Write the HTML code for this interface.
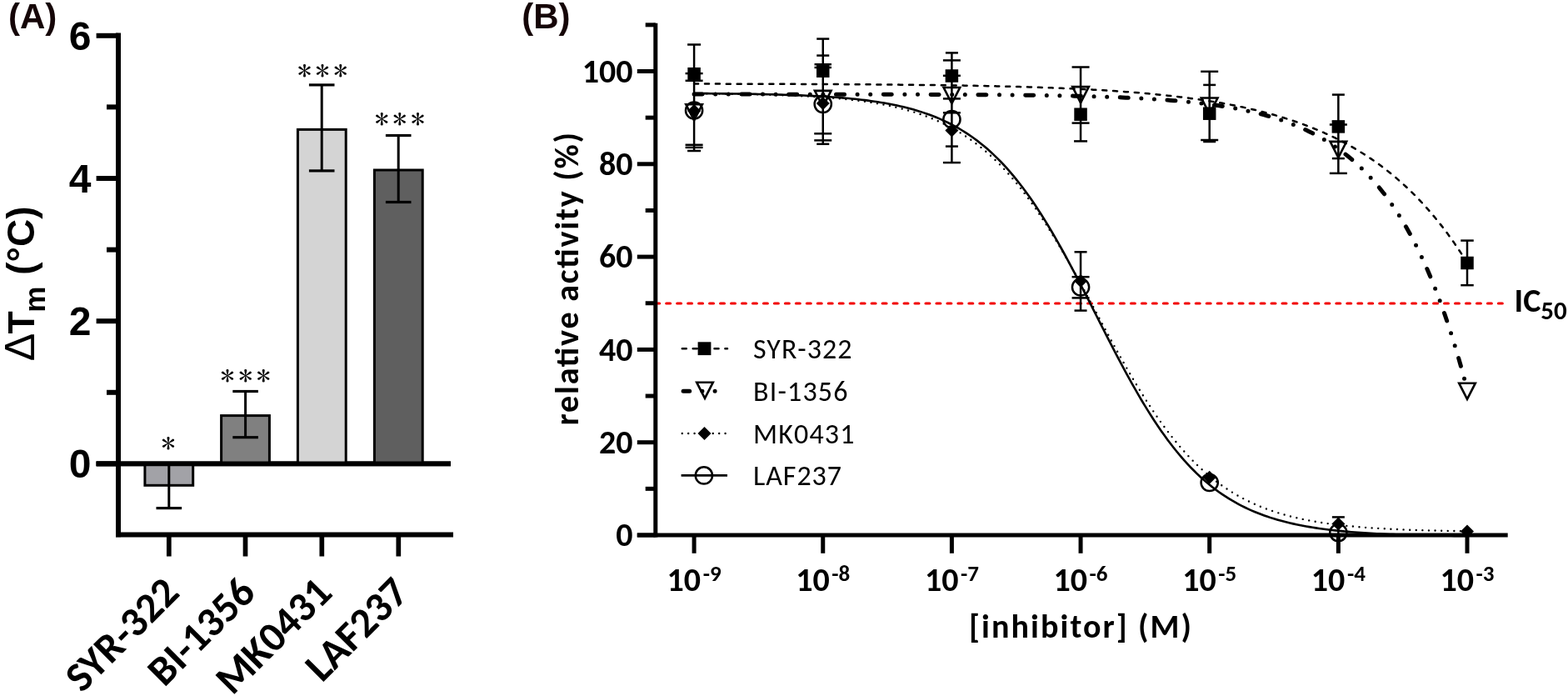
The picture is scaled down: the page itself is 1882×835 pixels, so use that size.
<!DOCTYPE html>
<html><head><meta charset="utf-8"><title>Figure</title>
<style>html,body{margin:0;padding:0;background:#fff;} svg{display:block;} .cal{font-size-adjust:cap-height 0.6484;} .calr{font-size-adjust:cap-height 0.6416;}</style></head>
<body><svg width="1882" height="835" viewBox="0 0 1882 835">
<rect width="1882" height="835" fill="#fff"/>
<text x="10.00" y="34.00" font-size="42" font-family="Liberation Sans, Arial, sans-serif" font-weight="bold" text-anchor="start" fill="#150507">(A)</text>
<line x1="142.00" y1="39.60" x2="142.00" y2="644.20" stroke="#000" stroke-width="6" />
<line x1="115.60" y1="42.80" x2="142.00" y2="42.80" stroke="#000" stroke-width="6" />
<line x1="115.60" y1="214.00" x2="142.00" y2="214.00" stroke="#000" stroke-width="6" />
<line x1="115.60" y1="385.20" x2="142.00" y2="385.20" stroke="#000" stroke-width="6" />
<line x1="115.60" y1="556.40" x2="142.00" y2="556.40" stroke="#000" stroke-width="6" />
<line x1="128.00" y1="128.40" x2="142.00" y2="128.40" stroke="#000" stroke-width="6" />
<line x1="128.00" y1="299.60" x2="142.00" y2="299.60" stroke="#000" stroke-width="6" />
<line x1="128.00" y1="470.80" x2="142.00" y2="470.80" stroke="#000" stroke-width="6" />
<line x1="115.60" y1="556.40" x2="541.00" y2="556.40" stroke="#000" stroke-width="5.6" />
<line x1="139.00" y1="641.50" x2="544.00" y2="641.50" stroke="#000" stroke-width="6.2" />
<line x1="202.80" y1="641.00" x2="202.80" y2="667.50" stroke="#000" stroke-width="5.7" />
<line x1="294.50" y1="641.00" x2="294.50" y2="667.50" stroke="#000" stroke-width="5.7" />
<line x1="386.30" y1="641.00" x2="386.30" y2="667.50" stroke="#000" stroke-width="5.7" />
<line x1="478.30" y1="641.00" x2="478.30" y2="667.50" stroke="#000" stroke-width="5.7" />
<rect x="173.90" y="556.40" width="57.8" height="25.90" fill="#a2a2a7" stroke="#000" stroke-width="3"/>
<rect x="265.60" y="498.60" width="57.8" height="57.80" fill="#808080" stroke="#000" stroke-width="3"/>
<rect x="357.40" y="155.40" width="57.8" height="401.00" fill="#d4d4d4" stroke="#000" stroke-width="3"/>
<rect x="449.40" y="204.00" width="57.8" height="352.40" fill="#5f5f5f" stroke="#000" stroke-width="3"/>
<line x1="115.60" y1="556.40" x2="541.00" y2="556.40" stroke="#000" stroke-width="5.6" />
<line x1="202.80" y1="556.40" x2="202.80" y2="609.60" stroke="#000" stroke-width="3" />
<line x1="187.50" y1="556.40" x2="218.10" y2="556.40" stroke="#000" stroke-width="3.2" />
<line x1="187.50" y1="609.60" x2="218.10" y2="609.60" stroke="#000" stroke-width="3.2" />
<line x1="294.60" y1="469.50" x2="294.60" y2="524.70" stroke="#000" stroke-width="3" />
<line x1="279.30" y1="469.50" x2="309.90" y2="469.50" stroke="#000" stroke-width="3.2" />
<line x1="279.30" y1="524.70" x2="309.90" y2="524.70" stroke="#000" stroke-width="3.2" />
<line x1="386.20" y1="101.90" x2="386.20" y2="204.90" stroke="#000" stroke-width="3" />
<line x1="370.90" y1="101.90" x2="401.50" y2="101.90" stroke="#000" stroke-width="3.2" />
<line x1="370.90" y1="204.90" x2="401.50" y2="204.90" stroke="#000" stroke-width="3.2" />
<line x1="478.20" y1="162.50" x2="478.20" y2="242.50" stroke="#000" stroke-width="3" />
<line x1="462.90" y1="162.50" x2="493.50" y2="162.50" stroke="#000" stroke-width="3.2" />
<line x1="462.90" y1="242.50" x2="493.50" y2="242.50" stroke="#000" stroke-width="3.2" />
<text transform="translate(201.95,542.50) scale(1.08,1)" x="0" y="0" font-size="31.5" font-family="IPAGothic, Liberation Sans, sans-serif" text-anchor="middle">*</text>
<text transform="translate(273.10,461.60) scale(1.08,1)" x="0" y="0" font-size="31.5" font-family="IPAGothic, Liberation Sans, sans-serif" text-anchor="middle">*</text>
<text transform="translate(294.70,461.60) scale(1.08,1)" x="0" y="0" font-size="31.5" font-family="IPAGothic, Liberation Sans, sans-serif" text-anchor="middle">*</text>
<text transform="translate(316.30,461.60) scale(1.08,1)" x="0" y="0" font-size="31.5" font-family="IPAGothic, Liberation Sans, sans-serif" text-anchor="middle">*</text>
<text transform="translate(365.45,95.80) scale(1.08,1)" x="0" y="0" font-size="31.5" font-family="IPAGothic, Liberation Sans, sans-serif" text-anchor="middle">*</text>
<text transform="translate(387.05,95.80) scale(1.08,1)" x="0" y="0" font-size="31.5" font-family="IPAGothic, Liberation Sans, sans-serif" text-anchor="middle">*</text>
<text transform="translate(408.65,95.80) scale(1.08,1)" x="0" y="0" font-size="31.5" font-family="IPAGothic, Liberation Sans, sans-serif" text-anchor="middle">*</text>
<text transform="translate(458.20,154.40) scale(1.08,1)" x="0" y="0" font-size="31.5" font-family="IPAGothic, Liberation Sans, sans-serif" text-anchor="middle">*</text>
<text transform="translate(479.80,154.40) scale(1.08,1)" x="0" y="0" font-size="31.5" font-family="IPAGothic, Liberation Sans, sans-serif" text-anchor="middle">*</text>
<text transform="translate(501.40,154.40) scale(1.08,1)" x="0" y="0" font-size="31.5" font-family="IPAGothic, Liberation Sans, sans-serif" text-anchor="middle">*</text>
<text x="109.50" y="59.60" font-size="48" font-family="Liberation Sans, Arial, sans-serif" font-weight="bold" text-anchor="end" >6</text>
<text x="109.50" y="230.80" font-size="48" font-family="Liberation Sans, Arial, sans-serif" font-weight="bold" text-anchor="end" >4</text>
<text x="109.50" y="402.00" font-size="48" font-family="Liberation Sans, Arial, sans-serif" font-weight="bold" text-anchor="end" >2</text>
<text x="109.50" y="573.20" font-size="48" font-family="Liberation Sans, Arial, sans-serif" font-weight="bold" text-anchor="end" >0</text>
<g transform="translate(41.2,431.8) rotate(-90)">
<text x="-1.5" y="0" font-family="Liberation Sans, Arial, sans-serif" font-size="50" font-weight="normal">&#916;</text>
<text x="31.3" y="0" font-family="Liberation Sans, Arial, sans-serif" font-size="44.5" font-weight="bold">T</text>
<text x="57.1" y="12.7" font-family="Liberation Sans, Arial, sans-serif" font-size="35" font-weight="bold">m</text>
<text x="102" y="0" font-family="Liberation Sans, Arial, sans-serif" font-size="46" font-weight="bold">(°C)</text>
</g>
<text transform="translate(217.30,713.4) rotate(-45)" class="cal" font-family="Carlito, Calibri, Liberation Sans, sans-serif" font-size="50" font-weight="bold" text-anchor="end" textLength="168.14" lengthAdjust="spacingAndGlyphs">SYR-322</text>
<text transform="translate(309.00,713.4) rotate(-45)" class="cal" font-family="Carlito, Calibri, Liberation Sans, sans-serif" font-size="50" font-weight="bold" text-anchor="end" textLength="158.05" lengthAdjust="spacingAndGlyphs">BI-1356</text>
<text transform="translate(400.80,713.4) rotate(-45)" class="cal" font-family="Carlito, Calibri, Liberation Sans, sans-serif" font-size="50" font-weight="bold" text-anchor="end" textLength="172.42" lengthAdjust="spacingAndGlyphs">MK0431</text>
<text transform="translate(492.80,713.4) rotate(-45)" class="cal" font-family="Carlito, Calibri, Liberation Sans, sans-serif" font-size="50" font-weight="bold" text-anchor="end" textLength="150.42" lengthAdjust="spacingAndGlyphs">LAF237</text>
<text x="626.30" y="34.00" font-size="42" font-family="Liberation Sans, Arial, sans-serif" font-weight="bold" text-anchor="start" fill="#150507">(B)</text>
<line x1="786.80" y1="364" x2="1806" y2="364" stroke="#f20000" stroke-width="3.2" stroke-dasharray="4.8 8.17" stroke-linecap="round"/>
<line x1="786.80" y1="27.80" x2="786.80" y2="644.50" stroke="#000" stroke-width="5" />
<line x1="764.80" y1="642.00" x2="1809.70" y2="642.00" stroke="#000" stroke-width="5" />
<line x1="764.80" y1="642.00" x2="786.80" y2="642.00" stroke="#000" stroke-width="5" />
<line x1="764.80" y1="530.70" x2="786.80" y2="530.70" stroke="#000" stroke-width="5" />
<line x1="764.80" y1="419.40" x2="786.80" y2="419.40" stroke="#000" stroke-width="5" />
<line x1="764.80" y1="308.10" x2="786.80" y2="308.10" stroke="#000" stroke-width="5" />
<line x1="764.80" y1="196.80" x2="786.80" y2="196.80" stroke="#000" stroke-width="5" />
<line x1="764.80" y1="85.50" x2="786.80" y2="85.50" stroke="#000" stroke-width="5" />
<line x1="774.70" y1="586.35" x2="786.80" y2="586.35" stroke="#000" stroke-width="5" />
<line x1="774.70" y1="475.05" x2="786.80" y2="475.05" stroke="#000" stroke-width="5" />
<line x1="774.70" y1="363.75" x2="786.80" y2="363.75" stroke="#000" stroke-width="5" />
<line x1="774.70" y1="252.45" x2="786.80" y2="252.45" stroke="#000" stroke-width="5" />
<line x1="774.70" y1="141.15" x2="786.80" y2="141.15" stroke="#000" stroke-width="5" />
<line x1="774.70" y1="29.85" x2="786.80" y2="29.85" stroke="#000" stroke-width="5" />
<line x1="833.10" y1="642.00" x2="833.10" y2="663.80" stroke="#000" stroke-width="5" />
<line x1="987.75" y1="642.00" x2="987.75" y2="663.80" stroke="#000" stroke-width="5" />
<line x1="1142.40" y1="642.00" x2="1142.40" y2="663.80" stroke="#000" stroke-width="5" />
<line x1="1297.05" y1="642.00" x2="1297.05" y2="663.80" stroke="#000" stroke-width="5" />
<line x1="1451.70" y1="642.00" x2="1451.70" y2="663.80" stroke="#000" stroke-width="5" />
<line x1="1606.35" y1="642.00" x2="1606.35" y2="663.80" stroke="#000" stroke-width="5" />
<line x1="1761.00" y1="642.00" x2="1761.00" y2="663.80" stroke="#000" stroke-width="5" />
<text x="759.50" y="655.20" font-size="40" font-family="Carlito, Calibri, Liberation Sans, sans-serif" font-weight="bold" text-anchor="end" textLength="20.28" lengthAdjust="spacingAndGlyphs" class="cal">0</text>
<text x="759.50" y="543.90" font-size="40" font-family="Carlito, Calibri, Liberation Sans, sans-serif" font-weight="bold" text-anchor="end" textLength="40.55" lengthAdjust="spacingAndGlyphs" class="cal">20</text>
<text x="759.50" y="432.60" font-size="40" font-family="Carlito, Calibri, Liberation Sans, sans-serif" font-weight="bold" text-anchor="end" textLength="40.55" lengthAdjust="spacingAndGlyphs" class="cal">40</text>
<text x="759.50" y="321.30" font-size="40" font-family="Carlito, Calibri, Liberation Sans, sans-serif" font-weight="bold" text-anchor="end" textLength="40.55" lengthAdjust="spacingAndGlyphs" class="cal">60</text>
<text x="759.50" y="210.00" font-size="40" font-family="Carlito, Calibri, Liberation Sans, sans-serif" font-weight="bold" text-anchor="end" textLength="40.55" lengthAdjust="spacingAndGlyphs" class="cal">80</text>
<text x="759.50" y="98.70" font-size="40" font-family="Carlito, Calibri, Liberation Sans, sans-serif" font-weight="bold" text-anchor="end" textLength="60.83" lengthAdjust="spacingAndGlyphs" class="cal">100</text>
<text x="800.60" y="709.30" font-size="40" font-family="Carlito, Calibri, Liberation Sans, sans-serif" font-weight="bold" text-anchor="start" textLength="40.55" lengthAdjust="spacingAndGlyphs" class="cal">10</text>
<text x="843.65" y="696.80" font-size="27" font-family="Carlito, Calibri, Liberation Sans, sans-serif" font-weight="bold" text-anchor="start" textLength="21.95" lengthAdjust="spacingAndGlyphs" class="cal">-9</text>
<text x="955.25" y="709.30" font-size="40" font-family="Carlito, Calibri, Liberation Sans, sans-serif" font-weight="bold" text-anchor="start" textLength="40.55" lengthAdjust="spacingAndGlyphs" class="cal">10</text>
<text x="998.30" y="696.80" font-size="27" font-family="Carlito, Calibri, Liberation Sans, sans-serif" font-weight="bold" text-anchor="start" textLength="21.95" lengthAdjust="spacingAndGlyphs" class="cal">-8</text>
<text x="1109.90" y="709.30" font-size="40" font-family="Carlito, Calibri, Liberation Sans, sans-serif" font-weight="bold" text-anchor="start" textLength="40.55" lengthAdjust="spacingAndGlyphs" class="cal">10</text>
<text x="1152.95" y="696.80" font-size="27" font-family="Carlito, Calibri, Liberation Sans, sans-serif" font-weight="bold" text-anchor="start" textLength="21.95" lengthAdjust="spacingAndGlyphs" class="cal">-7</text>
<text x="1264.55" y="709.30" font-size="40" font-family="Carlito, Calibri, Liberation Sans, sans-serif" font-weight="bold" text-anchor="start" textLength="40.55" lengthAdjust="spacingAndGlyphs" class="cal">10</text>
<text x="1307.60" y="696.80" font-size="27" font-family="Carlito, Calibri, Liberation Sans, sans-serif" font-weight="bold" text-anchor="start" textLength="21.95" lengthAdjust="spacingAndGlyphs" class="cal">-6</text>
<text x="1419.20" y="709.30" font-size="40" font-family="Carlito, Calibri, Liberation Sans, sans-serif" font-weight="bold" text-anchor="start" textLength="40.55" lengthAdjust="spacingAndGlyphs" class="cal">10</text>
<text x="1462.25" y="696.80" font-size="27" font-family="Carlito, Calibri, Liberation Sans, sans-serif" font-weight="bold" text-anchor="start" textLength="21.95" lengthAdjust="spacingAndGlyphs" class="cal">-5</text>
<text x="1573.85" y="709.30" font-size="40" font-family="Carlito, Calibri, Liberation Sans, sans-serif" font-weight="bold" text-anchor="start" textLength="40.55" lengthAdjust="spacingAndGlyphs" class="cal">10</text>
<text x="1616.90" y="696.80" font-size="27" font-family="Carlito, Calibri, Liberation Sans, sans-serif" font-weight="bold" text-anchor="start" textLength="21.95" lengthAdjust="spacingAndGlyphs" class="cal">-4</text>
<text x="1728.50" y="709.30" font-size="40" font-family="Carlito, Calibri, Liberation Sans, sans-serif" font-weight="bold" text-anchor="start" textLength="40.55" lengthAdjust="spacingAndGlyphs" class="cal">10</text>
<text x="1771.55" y="696.80" font-size="27" font-family="Carlito, Calibri, Liberation Sans, sans-serif" font-weight="bold" text-anchor="start" textLength="21.95" lengthAdjust="spacingAndGlyphs" class="cal">-3</text>
<text x="1163.00" y="764.60" font-size="40" font-family="Carlito, Calibri, Liberation Sans, sans-serif" font-weight="bold" text-anchor="start" textLength="267" lengthAdjust="spacing" class="cal">[inhibitor] (M)</text>
<text transform="translate(694,510.5) rotate(-90)" class="cal" font-family="Carlito, Calibri, Liberation Sans, sans-serif" font-size="40" font-weight="bold" textLength="351.5" lengthAdjust="spacing">relative activity (%)</text>
<text x="1817.50" y="373.60" font-size="40" font-family="Carlito, Calibri, Liberation Sans, sans-serif" font-weight="bold" text-anchor="start" textLength="31.84" lengthAdjust="spacingAndGlyphs" class="cal">IC</text>
<text x="1849.34" y="383.20" font-size="31" font-family="Carlito, Calibri, Liberation Sans, sans-serif" font-weight="bold" text-anchor="start" textLength="31.44" lengthAdjust="spacingAndGlyphs" class="cal">50</text>
<path d="M833.10,112.07 L836.97,112.09 L840.83,112.12 L844.70,112.14 L848.56,112.17 L852.43,112.20 L856.30,112.24 L860.16,112.27 L864.03,112.31 L867.90,112.35 L871.76,112.39 L875.63,112.43 L879.50,112.48 L883.36,112.52 L887.23,112.57 L891.09,112.63 L894.96,112.69 L898.83,112.75 L902.69,112.81 L906.56,112.88 L910.43,112.95 L914.29,113.03 L918.16,113.11 L922.02,113.20 L925.89,113.29 L929.76,113.38 L933.62,113.48 L937.49,113.59 L941.35,113.71 L945.22,113.83 L949.09,113.95 L952.95,114.09 L956.82,114.23 L960.69,114.38 L964.55,114.54 L968.42,114.71 L972.29,114.89 L976.15,115.08 L980.02,115.28 L983.88,115.50 L987.75,115.72 L991.62,115.96 L995.48,116.21 L999.35,116.48 L1003.21,116.76 L1007.08,117.06 L1010.95,117.38 L1014.81,117.71 L1018.68,118.06 L1022.55,118.44 L1026.41,118.83 L1030.28,119.25 L1034.14,119.69 L1038.01,120.16 L1041.88,120.65 L1045.74,121.18 L1049.61,121.73 L1053.48,122.31 L1057.34,122.93 L1061.21,123.58 L1065.08,124.27 L1068.94,124.99 L1072.81,125.76 L1076.67,126.57 L1080.54,127.43 L1084.41,128.33 L1088.27,129.28 L1092.14,130.29 L1096.01,131.35 L1099.87,132.46 L1103.74,133.64 L1107.60,134.88 L1111.47,136.19 L1115.34,137.57 L1119.20,139.03 L1123.07,140.56 L1126.94,142.17 L1130.80,143.86 L1134.67,145.64 L1138.53,147.51 L1142.40,149.48 L1146.27,151.55 L1150.13,153.72 L1154.00,156.00 L1157.87,158.39 L1161.73,160.89 L1165.60,163.52 L1169.46,166.27 L1173.33,169.15 L1177.20,172.16 L1181.06,175.31 L1184.93,178.59 L1188.80,182.03 L1192.66,185.61 L1196.53,189.34 L1200.39,193.23 L1204.26,197.27 L1208.13,201.48 L1211.99,205.84 L1215.86,210.38 L1219.72,215.08 L1223.59,219.94 L1227.46,224.98 L1231.32,230.18 L1235.19,235.56 L1239.06,241.10 L1242.92,246.80 L1246.79,252.67 L1250.66,258.70 L1254.52,264.89 L1258.39,271.23 L1262.25,277.71 L1266.12,284.34 L1269.99,291.10 L1273.85,297.99 L1277.72,305.00 L1281.59,312.12 L1285.45,319.35 L1289.32,326.66 L1293.18,334.05 L1297.05,341.52 L1300.92,349.04 L1304.78,356.61 L1308.65,364.21 L1312.51,371.84 L1316.38,379.48 L1320.25,387.11 L1324.11,394.73 L1327.98,402.32 L1331.85,409.87 L1335.71,417.36 L1339.58,424.80 L1343.44,432.15 L1347.31,439.43 L1351.18,446.60 L1355.04,453.67 L1358.91,460.63 L1362.78,467.46 L1366.64,474.16 L1370.51,480.72 L1374.38,487.14 L1378.24,493.41 L1382.11,499.53 L1385.97,505.48 L1389.84,511.28 L1393.71,516.90 L1397.57,522.37 L1401.44,527.66 L1405.31,532.79 L1409.17,537.75 L1413.04,542.54 L1416.90,547.16 L1420.77,551.61 L1424.64,555.91 L1428.50,560.04 L1432.37,564.01 L1436.24,567.82 L1440.10,571.48 L1443.97,574.99 L1447.83,578.36 L1451.70,581.58 L1455.57,584.66 L1459.43,587.61 L1463.30,590.43 L1467.16,593.12 L1471.03,595.69 L1474.90,598.14 L1478.76,600.48 L1482.63,602.71 L1486.50,604.83 L1490.36,606.85 L1494.23,608.78 L1498.10,610.61 L1501.96,612.35 L1505.83,614.00 L1509.69,615.57 L1513.56,617.07 L1517.43,618.49 L1521.29,619.83 L1525.16,621.11 L1529.03,622.32 L1532.89,623.47 L1536.76,624.56 L1540.62,625.60 L1544.49,626.58 L1548.36,627.51 L1552.22,628.39 L1556.09,629.22 L1559.95,630.01 L1563.82,630.76 L1567.69,631.47 L1571.55,632.14 L1575.42,632.77 L1579.29,633.37 L1583.15,633.94 L1587.02,634.48 L1590.89,634.99 L1594.75,635.47 L1598.62,635.93 L1602.48,636.36 L1606.35,636.76 L1610.22,637.15 L1614.08,637.51 L1617.95,637.86 L1621.82,638.18 L1625.68,638.49 L1629.55,638.78 L1633.41,639.06 L1637.28,639.32 L1641.15,639.56 L1645.01,639.79 L1648.88,640.01 L1652.74,640.22 L1656.61,640.42 L1660.48,640.60 L1664.34,640.78 L1668.21,640.94 L1672.08,641.10 L1675.94,641.25 L1679.81,641.38 L1683.68,641.52 L1687.54,641.64 L1691.41,641.76 L1695.27,641.87 L1699.14,641.97 L1703.01,642.07 L1706.87,642.17 L1710.74,642.25 L1714.61,642.34 L1718.47,642.42 L1722.34,642.49 L1726.20,642.56 L1730.07,642.63 L1733.94,642.69 L1737.80,642.75 L1741.67,642.81 L1745.54,642.86 L1749.40,642.91 L1753.27,642.96 L1757.13,643.00 L1761.00,643.04" fill="none" stroke="#000" stroke-width="2.6"/>
<path d="M833.10,112.23 L836.97,112.26 L840.83,112.29 L844.70,112.33 L848.56,112.37 L852.43,112.40 L856.30,112.45 L860.16,112.49 L864.03,112.54 L867.90,112.59 L871.76,112.64 L875.63,112.70 L879.50,112.75 L883.36,112.82 L887.23,112.88 L891.09,112.95 L894.96,113.02 L898.83,113.10 L902.69,113.18 L906.56,113.26 L910.43,113.35 L914.29,113.45 L918.16,113.55 L922.02,113.66 L925.89,113.77 L929.76,113.89 L933.62,114.01 L937.49,114.14 L941.35,114.28 L945.22,114.43 L949.09,114.58 L952.95,114.75 L956.82,114.92 L960.69,115.10 L964.55,115.30 L968.42,115.50 L972.29,115.71 L976.15,115.94 L980.02,116.18 L983.88,116.43 L987.75,116.70 L991.62,116.98 L995.48,117.27 L999.35,117.58 L1003.21,117.91 L1007.08,118.26 L1010.95,118.63 L1014.81,119.01 L1018.68,119.42 L1022.55,119.85 L1026.41,120.30 L1030.28,120.78 L1034.14,121.28 L1038.01,121.82 L1041.88,122.37 L1045.74,122.96 L1049.61,123.59 L1053.48,124.24 L1057.34,124.93 L1061.21,125.66 L1065.08,126.42 L1068.94,127.23 L1072.81,128.07 L1076.67,128.97 L1080.54,129.91 L1084.41,130.89 L1088.27,131.93 L1092.14,133.03 L1096.01,134.18 L1099.87,135.39 L1103.74,136.66 L1107.60,137.99 L1111.47,139.40 L1115.34,140.87 L1119.20,142.41 L1123.07,144.04 L1126.94,145.74 L1130.80,147.52 L1134.67,149.40 L1138.53,151.36 L1142.40,153.41 L1146.27,155.56 L1150.13,157.81 L1154.00,160.17 L1157.87,162.63 L1161.73,165.21 L1165.60,167.90 L1169.46,170.70 L1173.33,173.63 L1177.20,176.68 L1181.06,179.87 L1184.93,183.18 L1188.80,186.63 L1192.66,190.21 L1196.53,193.94 L1200.39,197.81 L1204.26,201.82 L1208.13,205.98 L1211.99,210.29 L1215.86,214.75 L1219.72,219.36 L1223.59,224.12 L1227.46,229.03 L1231.32,234.09 L1235.19,239.31 L1239.06,244.67 L1242.92,250.18 L1246.79,255.84 L1250.66,261.63 L1254.52,267.57 L1258.39,273.63 L1262.25,279.83 L1266.12,286.15 L1269.99,292.59 L1273.85,299.14 L1277.72,305.79 L1281.59,312.54 L1285.45,319.38 L1289.32,326.29 L1293.18,333.28 L1297.05,340.33 L1300.92,347.43 L1304.78,354.57 L1308.65,361.73 L1312.51,368.92 L1316.38,376.12 L1320.25,383.32 L1324.11,390.50 L1327.98,397.66 L1331.85,404.79 L1335.71,411.87 L1339.58,418.90 L1343.44,425.87 L1347.31,432.76 L1351.18,439.57 L1355.04,446.29 L1358.91,452.90 L1362.78,459.42 L1366.64,465.82 L1370.51,472.10 L1374.38,478.25 L1378.24,484.28 L1382.11,490.17 L1385.97,495.92 L1389.84,501.53 L1393.71,506.99 L1397.57,512.30 L1401.44,517.47 L1405.31,522.48 L1409.17,527.34 L1413.04,532.05 L1416.90,536.61 L1420.77,541.02 L1424.64,545.28 L1428.50,549.39 L1432.37,553.36 L1436.24,557.18 L1440.10,560.86 L1443.97,564.40 L1447.83,567.80 L1451.70,571.07 L1455.57,574.21 L1459.43,577.23 L1463.30,580.11 L1467.16,582.88 L1471.03,585.53 L1474.90,588.07 L1478.76,590.50 L1482.63,592.82 L1486.50,595.04 L1490.36,597.16 L1494.23,599.18 L1498.10,601.11 L1501.96,602.95 L1505.83,604.71 L1509.69,606.39 L1513.56,607.98 L1517.43,609.51 L1521.29,610.95 L1525.16,612.33 L1529.03,613.65 L1532.89,614.90 L1536.76,616.09 L1540.62,617.22 L1544.49,618.29 L1548.36,619.32 L1552.22,620.29 L1556.09,621.21 L1559.95,622.09 L1563.82,622.92 L1567.69,623.72 L1571.55,624.47 L1575.42,625.18 L1579.29,625.86 L1583.15,626.50 L1587.02,627.11 L1590.89,627.69 L1594.75,628.24 L1598.62,628.77 L1602.48,629.26 L1606.35,629.73 L1610.22,630.18 L1614.08,630.60 L1617.95,631.00 L1621.82,631.38 L1625.68,631.74 L1629.55,632.08 L1633.41,632.40 L1637.28,632.71 L1641.15,633.00 L1645.01,633.28 L1648.88,633.54 L1652.74,633.78 L1656.61,634.02 L1660.48,634.24 L1664.34,634.45 L1668.21,634.65 L1672.08,634.84 L1675.94,635.02 L1679.81,635.19 L1683.68,635.35 L1687.54,635.50 L1691.41,635.65 L1695.27,635.78 L1699.14,635.91 L1703.01,636.04 L1706.87,636.15 L1710.74,636.26 L1714.61,636.37 L1718.47,636.46 L1722.34,636.56 L1726.20,636.65 L1730.07,636.73 L1733.94,636.81 L1737.80,636.89 L1741.67,636.96 L1745.54,637.02 L1749.40,637.09 L1753.27,637.15 L1757.13,637.21 L1761.00,637.26" fill="none" stroke="#000" stroke-width="2.4" stroke-dasharray="0 7.6" stroke-linecap="round"/>
<path d="M833.10,100.57 L836.97,100.57 L840.83,100.58 L844.70,100.59 L848.56,100.59 L852.43,100.60 L856.30,100.61 L860.16,100.61 L864.03,100.62 L867.90,100.63 L871.76,100.63 L875.63,100.64 L879.50,100.65 L883.36,100.66 L887.23,100.67 L891.09,100.68 L894.96,100.68 L898.83,100.69 L902.69,100.70 L906.56,100.71 L910.43,100.72 L914.29,100.73 L918.16,100.74 L922.02,100.75 L925.89,100.77 L929.76,100.78 L933.62,100.79 L937.49,100.80 L941.35,100.81 L945.22,100.83 L949.09,100.84 L952.95,100.86 L956.82,100.87 L960.69,100.88 L964.55,100.90 L968.42,100.92 L972.29,100.93 L976.15,100.95 L980.02,100.96 L983.88,100.98 L987.75,101.00 L991.62,101.02 L995.48,101.04 L999.35,101.06 L1003.21,101.08 L1007.08,101.10 L1010.95,101.12 L1014.81,101.14 L1018.68,101.17 L1022.55,101.19 L1026.41,101.21 L1030.28,101.24 L1034.14,101.26 L1038.01,101.29 L1041.88,101.32 L1045.74,101.35 L1049.61,101.37 L1053.48,101.40 L1057.34,101.43 L1061.21,101.47 L1065.08,101.50 L1068.94,101.53 L1072.81,101.57 L1076.67,101.60 L1080.54,101.64 L1084.41,101.68 L1088.27,101.71 L1092.14,101.75 L1096.01,101.79 L1099.87,101.84 L1103.74,101.88 L1107.60,101.92 L1111.47,101.97 L1115.34,102.02 L1119.20,102.07 L1123.07,102.12 L1126.94,102.17 L1130.80,102.22 L1134.67,102.28 L1138.53,102.33 L1142.40,102.39 L1146.27,102.45 L1150.13,102.51 L1154.00,102.58 L1157.87,102.64 L1161.73,102.71 L1165.60,102.78 L1169.46,102.85 L1173.33,102.92 L1177.20,103.00 L1181.06,103.08 L1184.93,103.16 L1188.80,103.24 L1192.66,103.32 L1196.53,103.41 L1200.39,103.50 L1204.26,103.59 L1208.13,103.69 L1211.99,103.79 L1215.86,103.89 L1219.72,103.99 L1223.59,104.10 L1227.46,104.21 L1231.32,104.32 L1235.19,104.44 L1239.06,104.56 L1242.92,104.69 L1246.79,104.81 L1250.66,104.95 L1254.52,105.08 L1258.39,105.22 L1262.25,105.36 L1266.12,105.51 L1269.99,105.66 L1273.85,105.82 L1277.72,105.98 L1281.59,106.15 L1285.45,106.32 L1289.32,106.50 L1293.18,106.68 L1297.05,106.87 L1300.92,107.06 L1304.78,107.26 L1308.65,107.46 L1312.51,107.67 L1316.38,107.89 L1320.25,108.11 L1324.11,108.34 L1327.98,108.57 L1331.85,108.82 L1335.71,109.07 L1339.58,109.32 L1343.44,109.59 L1347.31,109.86 L1351.18,110.14 L1355.04,110.43 L1358.91,110.73 L1362.78,111.04 L1366.64,111.35 L1370.51,111.68 L1374.38,112.01 L1378.24,112.36 L1382.11,112.71 L1385.97,113.08 L1389.84,113.46 L1393.71,113.84 L1397.57,114.24 L1401.44,114.65 L1405.31,115.08 L1409.17,115.51 L1413.04,115.96 L1416.90,116.42 L1420.77,116.90 L1424.64,117.39 L1428.50,117.89 L1432.37,118.41 L1436.24,118.94 L1440.10,119.49 L1443.97,120.06 L1447.83,120.64 L1451.70,121.24 L1455.57,121.86 L1459.43,122.50 L1463.30,123.15 L1467.16,123.83 L1471.03,124.52 L1474.90,125.24 L1478.76,125.98 L1482.63,126.73 L1486.50,127.51 L1490.36,128.32 L1494.23,129.15 L1498.10,130.00 L1501.96,130.88 L1505.83,131.78 L1509.69,132.71 L1513.56,133.67 L1517.43,134.65 L1521.29,135.67 L1525.16,136.71 L1529.03,137.79 L1532.89,138.90 L1536.76,140.04 L1540.62,141.21 L1544.49,142.42 L1548.36,143.66 L1552.22,144.94 L1556.09,146.26 L1559.95,147.62 L1563.82,149.02 L1567.69,150.46 L1571.55,151.94 L1575.42,153.47 L1579.29,155.04 L1583.15,156.66 L1587.02,158.32 L1590.89,160.04 L1594.75,161.80 L1598.62,163.62 L1602.48,165.49 L1606.35,167.42 L1610.22,169.40 L1614.08,171.45 L1617.95,173.55 L1621.82,175.71 L1625.68,177.94 L1629.55,180.24 L1633.41,182.60 L1637.28,185.03 L1641.15,187.53 L1645.01,190.11 L1648.88,192.76 L1652.74,195.50 L1656.61,198.31 L1660.48,201.20 L1664.34,204.18 L1668.21,207.25 L1672.08,210.41 L1675.94,213.66 L1679.81,217.01 L1683.68,220.46 L1687.54,224.00 L1691.41,227.66 L1695.27,231.42 L1699.14,235.29 L1703.01,239.27 L1706.87,243.37 L1710.74,247.60 L1714.61,251.94 L1718.47,256.42 L1722.34,261.03 L1726.20,265.77 L1730.07,270.65 L1733.94,275.67 L1737.80,280.85 L1741.67,286.17 L1745.54,291.65 L1749.40,297.29 L1753.27,303.10 L1757.13,309.08 L1761.00,315.23" fill="none" stroke="#000" stroke-width="2.5" stroke-dasharray="5 7.9" stroke-linecap="round"/>
<path d="M833.10,113.10 L836.97,113.10 L840.83,113.10 L844.70,113.11 L848.56,113.11 L852.43,113.11 L856.30,113.11 L860.16,113.11 L864.03,113.11 L867.90,113.11 L871.76,113.11 L875.63,113.11 L879.50,113.11 L883.36,113.11 L887.23,113.11 L891.09,113.12 L894.96,113.12 L898.83,113.12 L902.69,113.12 L906.56,113.12 L910.43,113.12 L914.29,113.12 L918.16,113.12 L922.02,113.13 L925.89,113.13 L929.76,113.13 L933.62,113.13 L937.49,113.13 L941.35,113.14 L945.22,113.14 L949.09,113.14 L952.95,113.14 L956.82,113.14 L960.69,113.15 L964.55,113.15 L968.42,113.15 L972.29,113.15 L976.15,113.16 L980.02,113.16 L983.88,113.16 L987.75,113.17 L991.62,113.17 L995.48,113.17 L999.35,113.18 L1003.21,113.18 L1007.08,113.18 L1010.95,113.19 L1014.81,113.19 L1018.68,113.20 L1022.55,113.20 L1026.41,113.21 L1030.28,113.21 L1034.14,113.22 L1038.01,113.22 L1041.88,113.23 L1045.74,113.23 L1049.61,113.24 L1053.48,113.25 L1057.34,113.25 L1061.21,113.26 L1065.08,113.27 L1068.94,113.27 L1072.81,113.28 L1076.67,113.29 L1080.54,113.30 L1084.41,113.31 L1088.27,113.32 L1092.14,113.33 L1096.01,113.34 L1099.87,113.35 L1103.74,113.36 L1107.60,113.37 L1111.47,113.38 L1115.34,113.40 L1119.20,113.41 L1123.07,113.42 L1126.94,113.44 L1130.80,113.45 L1134.67,113.47 L1138.53,113.49 L1142.40,113.50 L1146.27,113.52 L1150.13,113.54 L1154.00,113.56 L1157.87,113.58 L1161.73,113.60 L1165.60,113.62 L1169.46,113.64 L1173.33,113.67 L1177.20,113.69 L1181.06,113.72 L1184.93,113.75 L1188.80,113.77 L1192.66,113.80 L1196.53,113.84 L1200.39,113.87 L1204.26,113.90 L1208.13,113.94 L1211.99,113.97 L1215.86,114.01 L1219.72,114.05 L1223.59,114.09 L1227.46,114.14 L1231.32,114.18 L1235.19,114.23 L1239.06,114.28 L1242.92,114.33 L1246.79,114.38 L1250.66,114.44 L1254.52,114.49 L1258.39,114.56 L1262.25,114.62 L1266.12,114.68 L1269.99,114.75 L1273.85,114.83 L1277.72,114.90 L1281.59,114.98 L1285.45,115.06 L1289.32,115.14 L1293.18,115.23 L1297.05,115.33 L1300.92,115.42 L1304.78,115.52 L1308.65,115.63 L1312.51,115.74 L1316.38,115.85 L1320.25,115.97 L1324.11,116.10 L1327.98,116.22 L1331.85,116.36 L1335.71,116.50 L1339.58,116.65 L1343.44,116.80 L1347.31,116.96 L1351.18,117.13 L1355.04,117.30 L1358.91,117.48 L1362.78,117.67 L1366.64,117.87 L1370.51,118.08 L1374.38,118.29 L1378.24,118.52 L1382.11,118.75 L1385.97,119.00 L1389.84,119.25 L1393.71,119.52 L1397.57,119.79 L1401.44,120.08 L1405.31,120.39 L1409.17,120.70 L1413.04,121.03 L1416.90,121.37 L1420.77,121.73 L1424.64,122.10 L1428.50,122.49 L1432.37,122.89 L1436.24,123.32 L1440.10,123.76 L1443.97,124.22 L1447.83,124.70 L1451.70,125.20 L1455.57,125.72 L1459.43,126.27 L1463.30,126.83 L1467.16,127.43 L1471.03,128.04 L1474.90,128.69 L1478.76,129.36 L1482.63,130.06 L1486.50,130.80 L1490.36,131.56 L1494.23,132.36 L1498.10,133.19 L1501.96,134.05 L1505.83,134.96 L1509.69,135.90 L1513.56,136.88 L1517.43,137.91 L1521.29,138.98 L1525.16,140.10 L1529.03,141.26 L1532.89,142.48 L1536.76,143.74 L1540.62,145.07 L1544.49,146.45 L1548.36,147.88 L1552.22,149.38 L1556.09,150.95 L1559.95,152.58 L1563.82,154.28 L1567.69,156.06 L1571.55,157.91 L1575.42,159.85 L1579.29,161.86 L1583.15,163.97 L1587.02,166.16 L1590.89,168.45 L1594.75,170.83 L1598.62,173.32 L1602.48,175.92 L1606.35,178.63 L1610.22,181.46 L1614.08,184.40 L1617.95,187.48 L1621.82,190.68 L1625.68,194.03 L1629.55,197.52 L1633.41,201.16 L1637.28,204.95 L1641.15,208.91 L1645.01,213.05 L1648.88,217.35 L1652.74,221.85 L1656.61,226.54 L1660.48,231.43 L1664.34,236.53 L1668.21,241.85 L1672.08,247.40 L1675.94,253.18 L1679.81,259.22 L1683.68,265.52 L1687.54,272.09 L1691.41,278.94 L1695.27,286.09 L1699.14,293.54 L1703.01,301.32 L1706.87,309.43 L1710.74,317.88 L1714.61,326.71 L1718.47,335.91 L1722.34,345.51 L1726.20,355.52 L1730.07,365.96 L1733.94,376.85 L1737.80,388.22 L1741.67,400.06 L1745.54,412.42 L1749.40,425.31 L1753.27,438.76 L1757.13,452.78 L1761.00,467.40" fill="none" stroke="#000" stroke-width="5" stroke-dasharray="10 15.6 0 15.6 0 15.6" stroke-linecap="round"/>
<line x1="833.10" y1="53.50" x2="833.10" y2="181.00" stroke="#000" stroke-width="2.5" />
<line x1="987.75" y1="46.60" x2="987.75" y2="172.80" stroke="#000" stroke-width="2.5" />
<line x1="1142.40" y1="63.40" x2="1142.40" y2="195.10" stroke="#000" stroke-width="2.5" />
<line x1="1297.05" y1="80.50" x2="1297.05" y2="169.40" stroke="#000" stroke-width="2.5" />
<line x1="1297.05" y1="302.30" x2="1297.05" y2="372.60" stroke="#000" stroke-width="2.5" />
<line x1="1451.70" y1="85.80" x2="1451.70" y2="170.00" stroke="#000" stroke-width="2.5" />
<line x1="1606.35" y1="113.60" x2="1606.35" y2="207.90" stroke="#000" stroke-width="2.5" />
<line x1="1606.35" y1="620.40" x2="1606.35" y2="642.00" stroke="#000" stroke-width="2.5" />
<line x1="1761.00" y1="288.60" x2="1761.00" y2="342.20" stroke="#000" stroke-width="2.5" />
<line x1="825.10" y1="53.50" x2="841.10" y2="53.50" stroke="#000" stroke-width="2.5" />
<line x1="822.60" y1="88.10" x2="843.60" y2="88.10" stroke="#000" stroke-width="2.5" />
<line x1="822.60" y1="96.80" x2="843.60" y2="96.80" stroke="#000" stroke-width="2.5" />
<line x1="822.60" y1="173.80" x2="843.60" y2="173.80" stroke="#000" stroke-width="2.5" />
<line x1="822.60" y1="176.90" x2="843.60" y2="176.90" stroke="#000" stroke-width="2.5" />
<line x1="825.10" y1="181.00" x2="841.10" y2="181.00" stroke="#000" stroke-width="2.5" />
<line x1="980.25" y1="46.60" x2="995.25" y2="46.60" stroke="#000" stroke-width="2.5" />
<line x1="980.25" y1="66.60" x2="995.25" y2="66.60" stroke="#000" stroke-width="2.5" />
<line x1="977.55" y1="77.20" x2="997.95" y2="77.20" stroke="#000" stroke-width="2.5" />
<line x1="977.55" y1="81.00" x2="997.95" y2="81.00" stroke="#000" stroke-width="2.5" />
<line x1="977.25" y1="160.30" x2="998.25" y2="160.30" stroke="#000" stroke-width="2.5" />
<line x1="977.25" y1="168.40" x2="998.25" y2="168.40" stroke="#000" stroke-width="2.5" />
<line x1="980.25" y1="172.80" x2="995.25" y2="172.80" stroke="#000" stroke-width="2.5" />
<line x1="1134.90" y1="63.40" x2="1149.90" y2="63.40" stroke="#000" stroke-width="2.5" />
<line x1="1131.90" y1="72.40" x2="1152.90" y2="72.40" stroke="#000" stroke-width="2.5" />
<line x1="1131.90" y1="90.80" x2="1152.90" y2="90.80" stroke="#000" stroke-width="2.5" />
<line x1="1131.90" y1="118.40" x2="1152.90" y2="118.40" stroke="#000" stroke-width="2.5" />
<line x1="1131.90" y1="135.30" x2="1152.90" y2="135.30" stroke="#000" stroke-width="2.5" />
<line x1="1134.90" y1="175.60" x2="1149.90" y2="175.60" stroke="#000" stroke-width="2.5" />
<line x1="1131.90" y1="195.10" x2="1152.90" y2="195.10" stroke="#000" stroke-width="2.5" />
<line x1="1286.55" y1="80.50" x2="1307.55" y2="80.50" stroke="#000" stroke-width="2.5" />
<line x1="1286.55" y1="147.60" x2="1307.55" y2="147.60" stroke="#000" stroke-width="2.5" />
<line x1="1289.05" y1="169.40" x2="1305.05" y2="169.40" stroke="#000" stroke-width="2.5" />
<line x1="1289.55" y1="302.30" x2="1304.55" y2="302.30" stroke="#000" stroke-width="2.5" />
<line x1="1286.55" y1="332.20" x2="1307.55" y2="332.20" stroke="#000" stroke-width="2.5" />
<line x1="1286.55" y1="357.40" x2="1307.55" y2="357.40" stroke="#000" stroke-width="2.5" />
<line x1="1289.55" y1="372.60" x2="1304.55" y2="372.60" stroke="#000" stroke-width="2.5" />
<line x1="1441.20" y1="85.80" x2="1462.20" y2="85.80" stroke="#000" stroke-width="2.5" />
<line x1="1444.20" y1="101.90" x2="1459.20" y2="101.90" stroke="#000" stroke-width="2.5" />
<line x1="1441.20" y1="168.00" x2="1462.20" y2="168.00" stroke="#000" stroke-width="2.5" />
<line x1="1444.20" y1="170.00" x2="1459.20" y2="170.00" stroke="#000" stroke-width="2.5" />
<line x1="1598.85" y1="113.60" x2="1613.85" y2="113.60" stroke="#000" stroke-width="2.5" />
<line x1="1595.85" y1="149.50" x2="1616.85" y2="149.50" stroke="#000" stroke-width="2.5" />
<line x1="1598.85" y1="190.10" x2="1613.85" y2="190.10" stroke="#000" stroke-width="2.5" />
<line x1="1595.85" y1="207.90" x2="1616.85" y2="207.90" stroke="#000" stroke-width="2.5" />
<line x1="1598.85" y1="620.40" x2="1613.85" y2="620.40" stroke="#000" stroke-width="2.5" />
<line x1="1753.25" y1="288.60" x2="1768.75" y2="288.60" stroke="#000" stroke-width="2.5" />
<line x1="1753.25" y1="342.20" x2="1768.75" y2="342.20" stroke="#000" stroke-width="2.5" />
<path d="M833.10,125.00 L841.10,133.00 L833.10,141.00 L825.10,133.00 Z" fill="#000"/>
<path d="M987.75,116.00 L995.75,124.00 L987.75,132.00 L979.75,124.00 Z" fill="#000"/>
<path d="M1142.40,148.40 L1150.40,156.40 L1142.40,164.40 L1134.40,156.40 Z" fill="#000"/>
<path d="M1297.05,329.00 L1305.05,337.00 L1297.05,345.00 L1289.05,337.00 Z" fill="#000"/>
<path d="M1451.70,564.80 L1459.70,572.80 L1451.70,580.80 L1443.70,572.80 Z" fill="#000"/>
<path d="M1606.35,620.50 L1614.35,628.50 L1606.35,636.50 L1598.35,628.50 Z" fill="#000"/>
<path d="M1761.00,629.50 L1769.00,637.50 L1761.00,645.50 L1753.00,637.50 Z" fill="#000"/>
<circle cx="833.10" cy="132.50" r="10.1" fill="none" stroke="#000" stroke-width="2.5"/>
<circle cx="987.75" cy="124.90" r="10.1" fill="none" stroke="#000" stroke-width="2.5"/>
<circle cx="1142.40" cy="143.20" r="10.1" fill="none" stroke="#000" stroke-width="2.5"/>
<circle cx="1297.05" cy="344.50" r="10.1" fill="none" stroke="#000" stroke-width="2.5"/>
<circle cx="1451.70" cy="579.00" r="10.1" fill="none" stroke="#000" stroke-width="2.5"/>
<circle cx="1606.35" cy="639.10" r="10.1" fill="none" stroke="#000" stroke-width="2.5"/>
<path d="M823.30,125.30 L842.90,125.30 L833.10,144.50 Z" fill="none" stroke="#000" stroke-width="2.6" stroke-linejoin="miter"/>
<path d="M977.95,108.90 L997.55,108.90 L987.75,128.10 Z" fill="none" stroke="#000" stroke-width="2.6" stroke-linejoin="miter"/>
<path d="M1132.60,105.00 L1152.20,105.00 L1142.40,124.20 Z" fill="none" stroke="#000" stroke-width="2.6" stroke-linejoin="miter"/>
<path d="M1287.25,104.10 L1306.85,104.10 L1297.05,123.30 Z" fill="none" stroke="#000" stroke-width="2.6" stroke-linejoin="miter"/>
<path d="M1441.90,117.50 L1461.50,117.50 L1451.70,136.70 Z" fill="none" stroke="#000" stroke-width="2.6" stroke-linejoin="miter"/>
<path d="M1596.55,169.90 L1616.15,169.90 L1606.35,189.10 Z" fill="none" stroke="#000" stroke-width="2.6" stroke-linejoin="miter"/>
<path d="M1751.20,459.70 L1770.80,459.70 L1761.00,478.90 Z" fill="none" stroke="#000" stroke-width="2.6" stroke-linejoin="miter"/>
<rect x="825.35" y="80.95" width="15.50" height="15.50" fill="#000" />
<rect x="980.00" y="77.45" width="15.50" height="15.50" fill="#000" />
<rect x="1134.65" y="83.25" width="15.50" height="15.50" fill="#000" />
<rect x="1289.30" y="129.45" width="15.50" height="15.50" fill="#000" />
<rect x="1443.95" y="128.45" width="15.50" height="15.50" fill="#000" />
<rect x="1598.60" y="144.15" width="15.50" height="15.50" fill="#000" />
<rect x="1753.25" y="307.75" width="15.50" height="15.50" fill="#000" />
<line x1="818.8000000000001" y1="418.2" x2="873" y2="418.2" stroke="#000" stroke-width="2.5" stroke-dasharray="5 7.9" stroke-linecap="round"/>
<rect x="837.60" y="410.30" width="15.80" height="15.80" fill="#000" />
<line x1="820.1" y1="469.2" x2="873" y2="469.2" stroke="#000" stroke-width="5" stroke-dasharray="7.6 15.2 0 15.2 0 15.6" stroke-linecap="round"/>
<path d="M836.20,458.70 L855.80,458.70 L846.00,477.90 Z" fill="none" stroke="#000" stroke-width="2.6" stroke-linejoin="miter"/>
<line x1="818.8000000000001" y1="520" x2="873" y2="520" stroke="#000" stroke-width="2.4" stroke-dasharray="0 7.4" stroke-linecap="round"/>
<path d="M845.50,512.00 L853.50,520.00 L845.50,528.00 L837.50,520.00 Z" fill="#000"/>
<line x1="817.60" y1="570.40" x2="873.00" y2="570.40" stroke="#000" stroke-width="2.6" />
<circle cx="844.90" cy="570.40" r="10.1" fill="none" stroke="#000" stroke-width="2.5"/>
<text x="904.00" y="429.70" font-size="34" font-family="Carlito, Calibri, Liberation Sans, sans-serif" font-weight="normal" text-anchor="start" textLength="118.5" lengthAdjust="spacing" class="calr">SYR-322</text>
<text x="904.00" y="480.70" font-size="34" font-family="Carlito, Calibri, Liberation Sans, sans-serif" font-weight="normal" text-anchor="start" textLength="113.5" lengthAdjust="spacing" class="calr">BI-1356</text>
<text x="904.00" y="531.50" font-size="34" font-family="Carlito, Calibri, Liberation Sans, sans-serif" font-weight="normal" text-anchor="start" textLength="121.5" lengthAdjust="spacing" class="calr">MK0431</text>
<text x="904.00" y="581.90" font-size="34" font-family="Carlito, Calibri, Liberation Sans, sans-serif" font-weight="normal" text-anchor="start" textLength="106" lengthAdjust="spacing" class="calr">LAF237</text>
</svg></body></html>
